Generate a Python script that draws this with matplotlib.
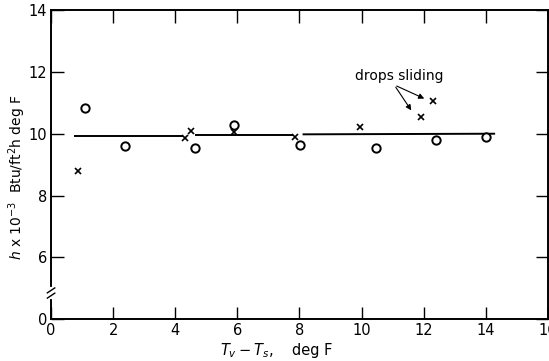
import matplotlib
matplotlib.use("Agg")
import matplotlib.pyplot as plt

# Data
circle_x = [1.08, 2.38, 4.63, 5.90, 8.02, 10.45, 12.41, 14.0]
circle_y = [10.83, 9.60, 9.55, 10.27, 9.64, 9.54, 9.80, 9.88]
cross_x = [0.87, 4.31, 4.51, 5.90, 7.86, 9.94, 11.90, 12.30]
cross_y = [8.78, 9.86, 10.09, 10.05, 9.90, 10.21, 10.54, 11.07]
# fitted mean line, drawn in three segments
line_segments_x = [[0.75, 4.25], [4.65, 7.8], [8.1, 14.3]]
line_segments_y = [[9.91, 9.91], [9.95, 9.95], [9.98, 10.0]]
x_ticks = [0, 2, 4, 6, 8, 10, 12, 14, 16]
y_ticks = [4, 6, 8, 10, 12, 14]
y_ticklabels = ["0", "6", "8", "10", "12", "14"]

fig = plt.figure(figsize=(5.49, 3.61), dpi=100)
ax = fig.add_axes([0.093, 0.116, 0.905, 0.856])

for sx, sy in zip(line_segments_x, line_segments_y):
    ax.plot(sx, sy, color="black", lw=1.4, solid_capstyle="butt")

ax.plot(circle_x, circle_y, linestyle="none", marker="o", markersize=6,
        markerfacecolor="white", markeredgecolor="black", markeredgewidth=1.4)
ax.plot(cross_x, cross_y, linestyle="none", marker="x", markersize=5,
        color="black", markeredgewidth=1.2)

ax.set_xlim(0, 16)
ax.set_ylim(4, 14)
ax.set_xticks(x_ticks)
ax.set_yticks(y_ticks)
ax.set_yticklabels(y_ticklabels)
ax.tick_params(direction="in", length=9, width=1.0, top=True, right=True,
               labelsize=10.5, pad=3)
for s in ax.spines.values():
    s.set_linewidth(1.4)

# break mark on y axis
ax.plot([0, 0], [4.72, 4.98], color="white", lw=3,
        clip_on=False, zorder=5)
for yb in [4.76, 4.93]:
    ax.plot([-0.12, 0.12], [yb - 0.08, yb + 0.08], color="black", lw=1.0,
            clip_on=False, zorder=6)

# annotation
ax.text(9.8, 11.88, "drops sliding", fontsize=10, ha="left", va="center")
ax.annotate("", xy=(12.1, 11.1), xytext=(11.05, 11.58),
            arrowprops=dict(arrowstyle="-|>", color="black", lw=0.8,
                            mutation_scale=8))
ax.annotate("", xy=(11.65, 10.68), xytext=(11.05, 11.58),
            arrowprops=dict(arrowstyle="-|>", color="black", lw=0.8,
                            mutation_scale=8))

fig.text(0.40, 0.03, r"$T_v - T_s$,", fontsize=10.5, ha="left", va="center")
fig.text(0.532, 0.03, "deg F", fontsize=10.5, ha="left", va="center")
fig.text(0.032, 0.51, r"$h$ x 10$^{-3}$  Btu/ft$^2$h deg F", fontsize=10,
         rotation=90, ha="center", va="center")

fig.savefig("out.png", dpi=100)
